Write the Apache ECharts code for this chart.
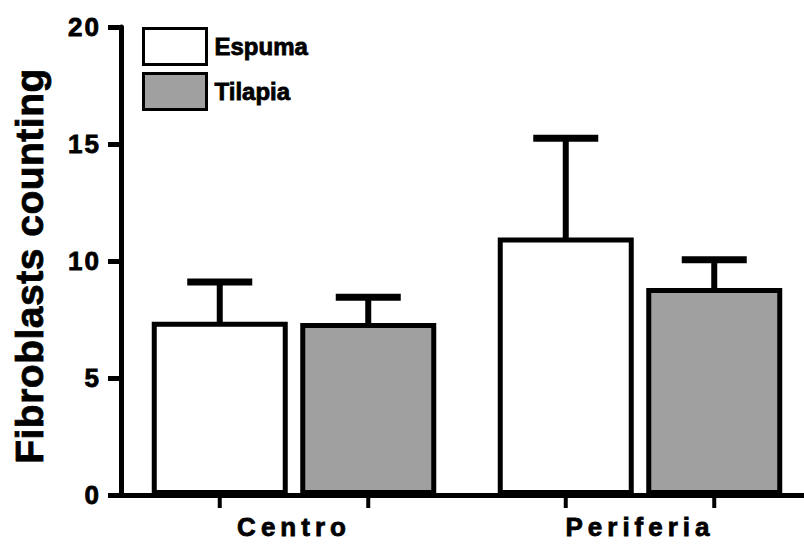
<!DOCTYPE html>
<html>
<head>
<meta charset="utf-8">
<script src="https://cdn.jsdelivr.net/npm/echarts@6/dist/echarts.min.js"></script>
<style>
  html, body { margin: 0; padding: 0; background: #fff; }
  #chart { width: 804px; height: 547px; }
</style>
</head>
<body>
<div id="chart"></div>
<script>
// Fibroblast counts per region, mean and standard deviation for each dressing
const categories = ['Centro', 'Periferia'];
const seriesNames = ['Espuma', 'Tilapia'];
const yTitle = 'Fibroblasts counting';
const espumaMean = [7.4, 11.0];
const espumaSD = [1.7, 4.25];
const tilapiaMean = [7.35, 8.85];
const tilapiaSD = [1.1, 1.2];
const yMin = 0, yMax = 20, yStep = 5;

const FONT = 'Liberation Sans, Arial, Helvetica, sans-serif';
const BAR_W = 136;        // bar width in px (border is drawn inside)
const BAR_GAP_PX = 12.5;  // gap between the two bars of a group
const CAP_W = 65;         // whisker cap width
const TICK_LEN = 13;      // category tick under each bar
const BORDER = 5;

const chart = echarts.init(document.getElementById('chart'), null, { renderer: 'svg' });

function errorSeries(name, means, sds, offset) {
  return {
    name: name + ' SD',
    type: 'custom',
    clip: false,
    silent: true,
    encode: { x: 0, y: 1 },
    data: means.map((m, i) => [i, m, sds[i]]),
    renderItem(params, api) {
      const i = api.value(0), m = api.value(1), sd = api.value(2);
      const base = api.coord([i, m]);
      const top = api.coord([i, m + sd]);
      const zero = api.coord([i, 0]);
      const x = base[0] + offset;
      return {
        type: 'group',
        children: [
          { type: 'line', shape: { x1: x, y1: base[1] + 2, x2: x, y2: top[1] }, style: { stroke: '#000', lineWidth: 6 } },
          { type: 'line', shape: { x1: x - CAP_W / 2, y1: top[1], x2: x + CAP_W / 2, y2: top[1] }, style: { stroke: '#000', lineWidth: 7 } },
          { type: 'line', shape: { x1: x, y1: zero[1], x2: x, y2: zero[1] + TICK_LEN }, style: { stroke: '#000', lineWidth: 4 } }
        ]
      };
    },
    z: 3
  };
}

const half = (BAR_W + BAR_GAP_PX) / 2;
const boldText = (size, extra) => Object.assign({
  fontFamily: FONT, fontWeight: 'bold', fontSize: size, color: '#000',
  textBorderColor: '#000', textBorderWidth: 0.8
}, extra || {});

chart.setOption({
  animation: false,
  backgroundColor: '#fff',
  grid: { left: 121, width: 692, top: 27, bottom: 52, outerBoundsMode: 'none', containLabel: false },
  legend: {
    orient: 'vertical',
    left: 142,
    top: 27,
    padding: 0,
    itemWidth: 63,
    itemHeight: 36,
    itemGap: 6,
    icon: 'rect',
    data: seriesNames,
    itemStyle: { borderColor: '#000', borderWidth: 3 },
    textStyle: boldText(24, { padding: [0, 0, 0, 3] })
  },
  xAxis: {
    type: 'category',
    data: categories,
    axisLine: { lineStyle: { color: '#000', width: 5 } },
    axisTick: { show: false },
    axisLabel: boldText(26, { margin: 19 })
  },
  yAxis: {
    type: 'value',
    min: yMin,
    max: yMax,
    interval: yStep,
    name: yTitle,
    nameLocation: 'middle',
    nameGap: 72,
    nameTextStyle: boldText(39, { padding: [0, 10, 0, 0] }),
    splitLine: { show: false },
    axisLine: { show: true, lineStyle: { color: '#000', width: 5 } },
    axisTick: { show: true, length: 13, lineStyle: { color: '#000', width: 5 } },
    axisLabel: boldText(26, { margin: 20 })
  },
  series: [
    {
      name: seriesNames[0],
      type: 'bar',
      data: espumaMean,
      barWidth: BAR_W,
      barGap: (BAR_GAP_PX / BAR_W * 100) + '%',
      itemStyle: { color: '#ffffff', borderColor: '#000', borderWidth: BORDER }
    },
    {
      name: seriesNames[1],
      type: 'bar',
      data: tilapiaMean,
      barWidth: BAR_W,
      barGap: (BAR_GAP_PX / BAR_W * 100) + '%',
      itemStyle: { color: '#a0a0a0', borderColor: '#000', borderWidth: BORDER }
    },
    errorSeries(seriesNames[0], espumaMean, espumaSD, -half),
    errorSeries(seriesNames[1], tilapiaMean, tilapiaSD, half)
  ]
});

// Widen the tracking of the bold labels
function spaceLabels() {
  document.querySelectorAll('#chart text').forEach(t => {
    const s = t.textContent;
    if (categories.includes(s)) t.style.letterSpacing = '5px';
    else if (/^\d+$/.test(s)) t.style.letterSpacing = '2px';
    else if (s === yTitle) t.style.letterSpacing = '0.5px';
  });
}
spaceLabels();
chart.on('finished', spaceLabels);
</script>
</body>
</html>
